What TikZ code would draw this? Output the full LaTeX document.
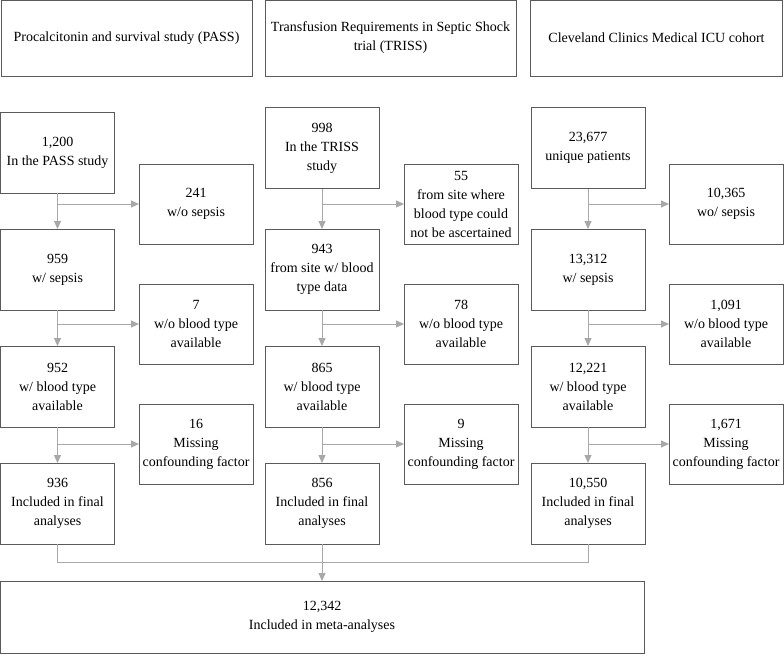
\documentclass[tikz,border=0pt]{standalone}
\usepackage{fontspec}
\setmainfont{Liberation Serif}
\usetikzlibrary{arrows.meta}
\definecolor{boxline}{HTML}{5A5A5A}
\definecolor{connline}{HTML}{A8A8A8}
\begin{document}
\begin{tikzpicture}[x=1pt,y=-1pt,
  box/.style={draw=boxline, line width=1pt, inner sep=0pt, outer sep=0pt, align=center,
    font=\fontsize{14}{19}\selectfont, text=black},
  hdr/.style={box, minimum height=76pt},
  mainbox/.style={box, minimum width=114pt, minimum height=81pt},
  sidebox/.style={box, minimum width=114pt, minimum height=80pt},
  conn/.style={draw=connline, line width=1pt},
  arr/.style={conn, -{Triangle[length=8pt,width=7pt]}, color=connline}]
\useasboundingbox (0,0) rectangle (784,654);
\fill[white] (0,0) rectangle (784,654);
% headers
\node[hdr, minimum width=251pt] (h1) at (126.5,38) {Procalcitonin and survival study (PASS)};
\node[hdr, minimum width=251pt] (h2) at (390.5,38) {Transfusion Requirements in Septic Shock\\trial (TRISS)};
\node[hdr, minimum width=252pt] (h3) at (656.5,38) {Cleveland Clinics Medical ICU cohort};
% column 1
\node[mainbox] (a1) at (57.5,152.5) {1,200\\In the PASS study};
\node[sidebox] (s11) at (196,204) {241\\w/o sepsis};
\node[mainbox] (a2) at (57.5,269.5) {959\\w/ sepsis};
\node[sidebox] (s12) at (196,324) {7\\w/o blood type\\available};
\node[mainbox] (a3) at (57.5,386.5) {952\\w/ blood type\\available};
\node[sidebox] (s13) at (196,444) {16\\Missing\\confounding factor};
\node[mainbox] (a4) at (57.5,503.5) {936\\Included in final\\analyses};
% column 2
\node[mainbox] (b1) at (322,148) {998\\In the TRISS\\study};
\node[sidebox] (s21) at (461,204) {55\\from site where\\blood type could\\not be ascertained};
\node[mainbox] (b2) at (322,269.5) {943\\from site w/ blood\\type data};
\node[sidebox] (s22) at (461,324) {78\\w/o blood type\\available};
\node[mainbox] (b3) at (322,386.5) {865\\w/ blood type\\available};
\node[sidebox] (s23) at (461,444) {9\\Missing\\confounding factor};
\node[mainbox] (b4) at (322,503.5) {856\\Included in final\\analyses};
% column 3
\node[mainbox] (c1) at (588,148) {23,677\\unique patients};
\node[sidebox] (s31) at (726,204) {10,365\\wo/ sepsis};
\node[mainbox] (c2) at (588,269.5) {13,312\\w/ sepsis};
\node[sidebox] (s32) at (726,324) {1,091\\w/o blood type\\available};
\node[mainbox] (c3) at (588,386.5) {12,221\\w/ blood type\\available};
\node[sidebox] (s33) at (726,444) {1,671\\Missing\\confounding factor};
\node[mainbox] (c4) at (588,503.5) {10,550\\Included in final\\analyses\rule[-4pt]{0pt}{0pt}};
% meta
\node[box, minimum width=644pt, minimum height=72pt] (meta) at (322,617) {12,342\\Included in meta-analyses};
% connectors
\foreach \c in {a,b,c}{
  \draw[arr] (\c1.south) -- (\c2.north);
  \draw[arr] (\c2.south) -- (\c3.north);
  \draw[arr] (\c3.south) -- (\c4.north);
}
\foreach \c/\k in {a/1,b/2,c/3}{
  \draw[arr] (\c1.south |- s\k1.west) -- (s\k1.west);
  \draw[arr] (\c2.south |- s\k2.west) -- (s\k2.west);
  \draw[arr] (\c3.south |- s\k3.west) -- (s\k3.west);
}
\coordinate (mr) at (588,562);
\draw[conn] (a4.south) |- (mr) -- (c4.south);
\draw[arr] (b4.south) -- (meta.north);
\end{tikzpicture}
\end{document}
